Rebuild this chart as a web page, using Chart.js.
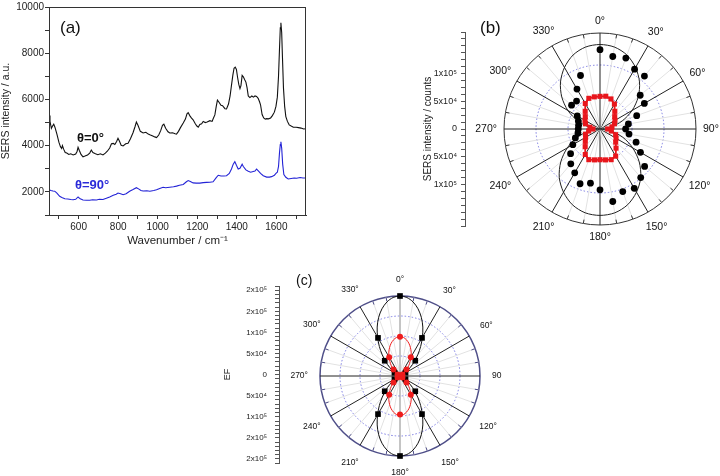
<!DOCTYPE html>
<html lang="en">
<head>
<meta charset="UTF-8">
<title>SERS polarization</title>
<script src="https://cdn.jsdelivr.net/npm/chart.js"></script>
<style>
  body { margin: 0; background: #fff; overflow: hidden; font-family: 'Liberation Sans', Arial, sans-serif; }
  #wrap { position: relative; width: 720px; height: 476px; }
  canvas { position: absolute; }
  .lbl { position: absolute; color: #111; white-space: nowrap; line-height: 1; }
</style>
</head>
<body>
<div id="wrap">
  <canvas id="spec" width="340" height="250" style="left:0;top:0"></canvas>
  <canvas id="axisB" width="60" height="260" style="left:420px;top:0"></canvas>
  <canvas id="polarB" width="250" height="260" style="left:470px;top:0"></canvas>
  <canvas id="axisC" width="64" height="214" style="left:220px;top:262px"></canvas>
  <canvas id="polarC" width="240" height="214" style="left:280px;top:262px"></canvas>
  <div class="lbl" style="left:60px;top:19px;font-size:17px">(a)</div>
  <div class="lbl" style="left:480px;top:19px;font-size:17px">(b)</div>
  <div class="lbl" style="left:296px;top:273px;font-size:14px">(c)</div>
  <div class="lbl" style="left:77px;top:131px;font-size:13px;font-weight:bold">θ=0°</div>
  <div class="lbl" style="left:75px;top:178px;font-size:13px;font-weight:bold;color:#2a2ad8">θ=90°</div>
</div>
<script>
// (a) spectra
const wn0 = [450,455,462,468,474,480,490,500,508,514,518,524,532,540,550,560,572,585,592,597,603,612,622,632,645,656,664,672,685,697,710,723,735,745,757,766,775,783,792,799,806,815,825,838,850,862,875,885,892,900,912,926,940,952,960,975,985,994,1005,1015,1024,1031,1040,1052,1061,1075,1088,1095,1105,1115,1129,1140,1148,1154,1162,1170,1179,1190,1198,1205,1213,1222,1230,1240,1250,1264,1275,1282,1289,1296,1302,1310,1320,1328,1340,1348,1358,1366,1373,1380,1386,1392,1398,1404,1410,1416,1421,1427,1433,1440,1446,1452,1458,1466,1476,1484,1492,1500,1508,1515,1520,1528,1536,1544,1551,1560,1571,1580,1590,1598,1605,1611,1616,1620,1623,1627,1631,1636,1642,1648,1656,1665,1675,1686,1700,1712,1725,1738,1750];
const sers0 = [5300,5050,4750,4850,4930,4800,4500,4150,3950,3880,4000,3850,3700,3680,3620,3650,3600,3640,3750,3930,3800,3620,3520,3550,3600,3680,3810,3700,3650,3610,3650,3600,3680,3760,3900,4080,4100,4050,4180,4320,4200,4020,3990,4080,4100,4300,4560,4820,5020,4880,4620,4550,4580,4500,4470,4420,4380,4350,4460,4650,4880,4930,4750,4600,4550,4560,4520,4500,4620,4780,4980,5150,5380,5430,5300,5200,5120,4950,4850,4800,4920,4950,5050,5000,5020,5080,5050,5200,5330,5700,5970,5880,5750,5730,5600,5590,5800,6150,6610,7050,7350,7400,7300,6950,6650,6470,6600,7040,6980,6850,6750,6500,6150,6080,6150,6100,6150,6130,6050,5900,5770,5350,5200,5150,5170,5160,5200,5300,5450,5700,6100,7000,8200,9100,9320,8900,7800,6500,5700,5260,5050,4900,4850,4800,4800,4780,4760,4720,4730];
const wn90 = [450,460,470,479,490,504,515,530,545,560,572,585,597,608,622,640,656,670,690,705,723,740,757,775,790,799,812,825,840,858,875,892,905,915,926,945,960,980,994,1010,1027,1040,1061,1080,1095,1110,1129,1145,1154,1165,1179,1195,1213,1230,1247,1264,1280,1296,1306,1320,1335,1348,1362,1373,1382,1390,1398,1407,1416,1427,1433,1446,1458,1470,1483,1492,1500,1510,1520,1534,1551,1565,1576,1590,1598,1605,1611,1616,1620,1623,1627,1632,1638,1648,1660,1675,1690,1703,1720,1735,1750];
const sers90 = [2090,2060,2040,2030,1950,1810,1760,1700,1690,1670,1660,1680,1780,1700,1650,1640,1640,1660,1650,1680,1670,1720,1780,1850,1900,1950,1920,1880,1920,2030,2100,2180,2120,2060,2040,2050,2030,2060,2090,2150,2200,2180,2200,2220,2250,2290,2320,2440,2490,2450,2390,2380,2380,2400,2410,2420,2440,2620,2720,2690,2690,2700,2800,2990,3200,3310,3150,2990,3020,3200,3100,2950,2890,2850,2880,2900,2990,2900,2800,2700,2640,2640,2660,2720,2800,2850,3100,3700,4050,4170,3900,3200,2750,2630,2560,2580,2600,2590,2620,2600,2600];
const wnTicks = [500,600,700,800,900,1000,1100,1200,1300,1400,1500,1600,1700];
const wnLabels = [600,800,1000,1200,1400,1600];

// (b) polar, values in units of 1e4 counts, one per 10 degrees
const bAngles = [0,10,20,30,40,50,60,70,80,90,100,110,120,130,140,150,160,170,180,190,200,210,220,230,240,250,260,270,280,290,300,310,320,330,340,350];
const bFit  = [13.2,13.0,12.3,11.1,9.6,7.8,5.8,3.7,1.7,0,1.7,3.8,5.9,8.0,9.9,11.4,12.6,13.3,13.5,13.3,12.6,11.4,9.9,8.0,5.9,3.8,1.7,0,1.7,3.7,5.8,7.8,9.6,11.1,12.3,13.0];
const bDots = [12.4,11.5,11.8,10.8,10.8,8.2,8.0,6.1,4.5,4.0,4.6,6.0,7.3,9.1,9.9,10.7,10.4,11.5,9.5,8.6,9.1,7.9,7.1,6.0,4.9,4.1,3.5,3.4,3.4,3.6,4.1,5.8,5.7,7.2,8.9,null];
const bRed  = [5.1,5.2,5.0,4.5,3.6,3.0,2.7,2.4,1.9,1.2,1.8,2.6,2.9,3.2,3.9,4.9,5.1,4.9,4.8,4.9,5.1,4.6,3.6,3.0,2.6,2.4,1.8,1.1,1.6,2.4,2.7,3.0,3.6,4.6,5.1,5.1];
const bText = ['0°','30°','60°','90°','120°','150°','180°','210°','240°','270°','300°','330°'];
const bAxisTicks = [-100000,-50000,0,50000,100000];
const bAxisText  = ['1x10⁵','5x10⁴','0','5x10⁴','1x10⁵'];

// (c) polar, EF in units of 1e5, one per 5 degrees
const cAngles = [0,5,10,15,20,25,30,35,40,45,50,55,60,65,70,75,80,85,90,95,100,105,110,115,120,125,130,135,140,145,150,155,160,165,170,175,180,185,190,195,200,205,210,215,220,225,230,235,240,245,250,255,260,265,270,275,280,285,290,295,300,305,310,315,320,325,330,335,340,345,350,355];
const cFitBlack = [2.00,1.97,1.88,1.74,1.56,1.35,1.12,0.90,0.69,0.50,0.34,0.22,0.12,0.06,0.03,0.01,0,0,
                   0,0,0,0.01,0.03,0.06,0.12,0.22,0.34,0.50,0.69,0.90,1.12,1.35,1.56,1.74,1.88,1.97,
                   2.00,1.97,1.88,1.74,1.56,1.35,1.12,0.90,0.69,0.50,0.34,0.22,0.12,0.06,0.03,0.01,0,0,
                   0,0,0,0.01,0.03,0.06,0.12,0.22,0.34,0.50,0.69,0.90,1.12,1.35,1.56,1.74,1.88,1.97];
const cFitRed = [0.98,0.97,0.92,0.85,0.76,0.66,0.55,0.44,0.34,0.25,0.17,0.11,0.06,0.03,0.015,0.005,0,0,
                 0,0,0,0.005,0.015,0.03,0.06,0.11,0.17,0.25,0.34,0.44,0.55,0.66,0.76,0.85,0.92,0.97,
                 0.98,0.97,0.92,0.85,0.76,0.66,0.55,0.44,0.34,0.25,0.17,0.11,0.06,0.03,0.015,0.005,0,0,
                 0,0,0,0.005,0.015,0.03,0.06,0.11,0.17,0.25,0.34,0.44,0.55,0.66,0.76,0.85,0.92,0.97];
const _ = null;
const cBlack = [2.00,_,_,_,_,_,1.10,_,_,0.54,_,_,0.16,_,_,_,_,_,
                0.02,_,_,_,_,_,0.16,_,_,0.54,_,_,1.10,_,_,_,_,_,
                2.00,_,_,_,_,_,1.10,_,_,0.54,_,_,0.16,_,_,_,_,_,
                0.02,_,_,_,_,_,0.16,_,_,0.54,_,_,1.10,_,_,_,_,_];
const cRed = [0.98,_,_,_,_,_,0.54,_,_,0.23,_,_,0.07,_,_,_,_,_,
              0.01,_,_,_,_,_,0.07,_,_,0.23,_,_,0.54,_,_,_,_,_,
              0.96,_,_,_,_,_,0.54,_,_,0.23,_,_,0.07,_,_,_,_,_,
              0.01,_,_,_,_,_,0.07,_,_,0.23,_,_,0.54,_,_,_,_,_];
const cText = ['0°','30°','60°','90','120°','150°','180°','210°','240°','270°','300°','330°'];
const cAxisTicks = [-200000,-150000,-100000,-50000,0,50000,100000,150000,200000];
const cAxisText  = ['2x10⁵','2x10⁵','1x10⁵','5x10⁴','0','5x10⁴','1x10⁵','2x10⁵','2x10⁵'];

Chart.defaults.font.family = "'Liberation Sans', Arial, sans-serif";
Chart.defaults.color = '#222';

// box around the spectrum plot
const frame = {
  id: 'frame',
  afterDraw(chart) {
    const a = chart.chartArea, ctx = chart.ctx;
    ctx.save();
    ctx.strokeStyle = '#333';
    ctx.lineWidth = 1;
    ctx.strokeRect(a.left + 0.5, a.top + 0.5, a.right - a.left - 1, a.bottom - a.top);
    ctx.restore();
  }
};

// angle labels and small ring ticks for the polar plots
const ringLabels = {
  id: 'ringLabels',
  afterDraw(chart, args, o) {
    const s = chart.scales.r, ctx = chart.ctx, R = s.drawingArea;
    const angles = chart.data.labels;
    ctx.save();
    ctx.strokeStyle = o.ring;
    ctx.lineWidth = 1;
    angles.forEach((a, i) => {
      if (a % 10 !== 0 || a % 30 === 0) return;
      const p1 = s.getPointPosition(i, R), p2 = s.getPointPosition(i, R - 4);
      ctx.beginPath(); ctx.moveTo(p1.x, p1.y); ctx.lineTo(p2.x, p2.y); ctx.stroke();
    });
    ctx.font = o.size + "px 'Liberation Sans', Arial, sans-serif";
    ctx.fillStyle = '#111';
    ctx.textAlign = 'center';
    ctx.textBaseline = 'middle';
    o.texts.forEach((t, k) => {
      const i = angles.indexOf(k * 30);
      const rad = k * 30 * Math.PI / 180;
      const w = ctx.measureText(t).width;
      const d = R + o.pad + Math.abs(Math.sin(rad)) * w / 2 + Math.abs(Math.cos(rad)) * o.size / 2;
      const p = s.getPointPosition(i, d);
      ctx.fillText(t, p.x, p.y);
    });
    ctx.restore();
  }
};

new Chart(document.getElementById('spec'), {
  type: 'scatter',
  data: {
    datasets: [
      { data: wn0.map((x, i) => ({ x, y: sers0[i] })), showLine: true, borderColor: '#111', borderWidth: 1.1, pointRadius: 0 },
      { data: wn90.map((x, i) => ({ x, y: sers90[i] })), showLine: true, borderColor: '#2323d6', borderWidth: 1.1, pointRadius: 0 }
    ]
  },
  options: {
    responsive: false,
    animation: false,
    layout: { padding: { top: 4, right: 34, left: 0, bottom: 0 } },
    plugins: { legend: { display: false }, tooltip: { enabled: false } },
    scales: {
      x: {
        type: 'linear', min: 450, max: 1750,
        afterBuildTicks: s => { s.ticks = wnTicks.map(v => ({ value: v })); },
        ticks: { autoSkip: false, maxRotation: 0, padding: 2, font: { size: 10 },
                 callback: v => wnLabels.includes(v) ? v : '' },
        grid: { drawOnChartArea: false, tickLength: 4, color: '#333' },
        border: { color: '#333' },
        title: { display: true, text: 'Wavenumber / cm⁻¹', font: { size: 11.5 }, padding: { top: 0, bottom: 2 } },
        afterFit: s => { s.height = 35; }
      },
      y: {
        min: 1000, max: 10000,
        ticks: { stepSize: 1000, autoSkip: false, padding: 1, font: { size: 10 },
                 callback: v => v % 2000 === 0 ? v : '' },
        grid: { drawOnChartArea: false, tickLength: 4, color: '#333' },
        border: { color: '#333' },
        title: { display: true, text: 'SERS intensity / a.u.', font: { size: 10.5 }, padding: { top: 0, bottom: 0 } },
        afterFit: s => { s.width = 49; }
      }
    }
  },
  plugins: [frame]
});

function sideAxis(id, min, max, step, ticks, texts, title, pad, width, fontSize, tickPad) {
  new Chart(document.getElementById(id), {
    type: 'scatter',
    data: { datasets: [] },
    options: {
      responsive: false,
      animation: false,
      layout: { padding: pad },
      plugins: { legend: { display: false }, tooltip: { enabled: false } },
      scales: {
        x: { display: false },
        y: {
          min, max,
          ticks: { stepSize: step, autoSkip: false, padding: tickPad, font: { size: fontSize },
                   callback: v => { const k = ticks.indexOf(v); return k < 0 ? '' : texts[k]; } },
          grid: { drawOnChartArea: false, tickLength: 4, color: '#555' },
          border: { color: '#555' },
          title: { display: true, text: title, font: { size: fontSize + 1 }, padding: { top: 2, bottom: 0 } },
          afterFit: s => { s.width = width; }
        }
      }
    }
  });
}

sideAxis('axisB', -175000, 175000, 12500, bAxisTicks, bAxisText, 'SERS intensity / counts',
         { top: 32, bottom: 34, left: 0, right: 0 }, 45, 9, 4);
sideAxis('axisC', -210000, 210000, 10000, cAxisTicks, cAxisText, 'EF',
         { top: 24, bottom: 10, left: 0, right: 0 }, 59, 8, 8);

function polarOptions(max, step, ringColor, ringWidth, spokeEvery, faintEvery, greyVertical, texts, size, pad, padding) {
  return {
    responsive: false,
    animation: false,
    layout: { padding },
    plugins: {
      legend: { display: false }, tooltip: { enabled: false },
      ringLabels: { texts, size, pad, ring: ringColor }
    },
    scales: {
      r: {
        min: 0, max,
        ticks: { display: false, stepSize: step },
        pointLabels: { display: false },
        grid: { circular: true,
                lineWidth: c => c.tick.value === max ? ringWidth : 1,
                color: c => c.tick.value === max ? ringColor : '#7a7ae0' },
        border: { dash: c => c.tick.value === max ? [] : [1.5, 2] },
        angleLines: {
          color: c => c.index % spokeEvery === 0 ? (greyVertical && c.index % (spokeEvery * 6) === 0 ? '#8a8a8a' : '#222')
                    : (c.index % faintEvery === 0 ? '#e2e2e2' : 'rgba(0,0,0,0)'),
          lineWidth: c => (c.index % faintEvery === 0 ? 1 : 0)
        }
      }
    }
  };
}

new Chart(document.getElementById('polarB'), {
  type: 'radar',
  data: {
    labels: bAngles,
    datasets: [
      { data: bRed, borderColor: '#e8161c', pointBackgroundColor: '#e8161c', pointBorderColor: '#e8161c',
        borderWidth: 1.8, pointStyle: 'rect', pointRadius: 3.6, pointBorderWidth: 0, fill: false, tension: 0, clip: false },
      { data: bDots, showLine: false, pointRadius: 3.4, pointBackgroundColor: '#000', pointBorderColor: '#000',
        pointBorderWidth: 0, fill: false, clip: false },
      { data: bFit, borderColor: '#222', borderWidth: 1, pointRadius: 0, fill: false, tension: 0.3, clip: false }
    ]
  },
  options: polarOptions(15, 5, '#333', 1, 3, 1, false, bText, 10.5, 7, { left: 34, right: 24, top: 33, bottom: 35 }),
  plugins: [ringLabels]
});

new Chart(document.getElementById('polarC'), {
  type: 'radar',
  data: {
    labels: cAngles,
    datasets: [
      { data: cRed, showLine: false, pointRadius: 3, pointBackgroundColor: '#ee1c1c', pointBorderColor: '#ee1c1c',
        pointBorderWidth: 0, fill: false, clip: false },
      { data: cFitRed, borderColor: '#ee1c1c', borderWidth: 1, pointRadius: 0, fill: false, tension: 0.3, clip: false },
      { data: cBlack, showLine: false, pointStyle: 'rect', pointRadius: 4, pointBackgroundColor: '#000', pointBorderColor: '#000',
        pointBorderWidth: 0, fill: false, clip: false },
      { data: cFitBlack, borderColor: '#111', borderWidth: 1, pointRadius: 0, fill: false, tension: 0.3, clip: false }
    ]
  },
  options: polarOptions(2, 0.5, '#4e4e88', 1.5, 6, 2, true, cText, 8.5, 12, { left: 40, right: 40, top: 34, bottom: 20 }),
  plugins: [ringLabels]
});
</script>
</body>
</html>
